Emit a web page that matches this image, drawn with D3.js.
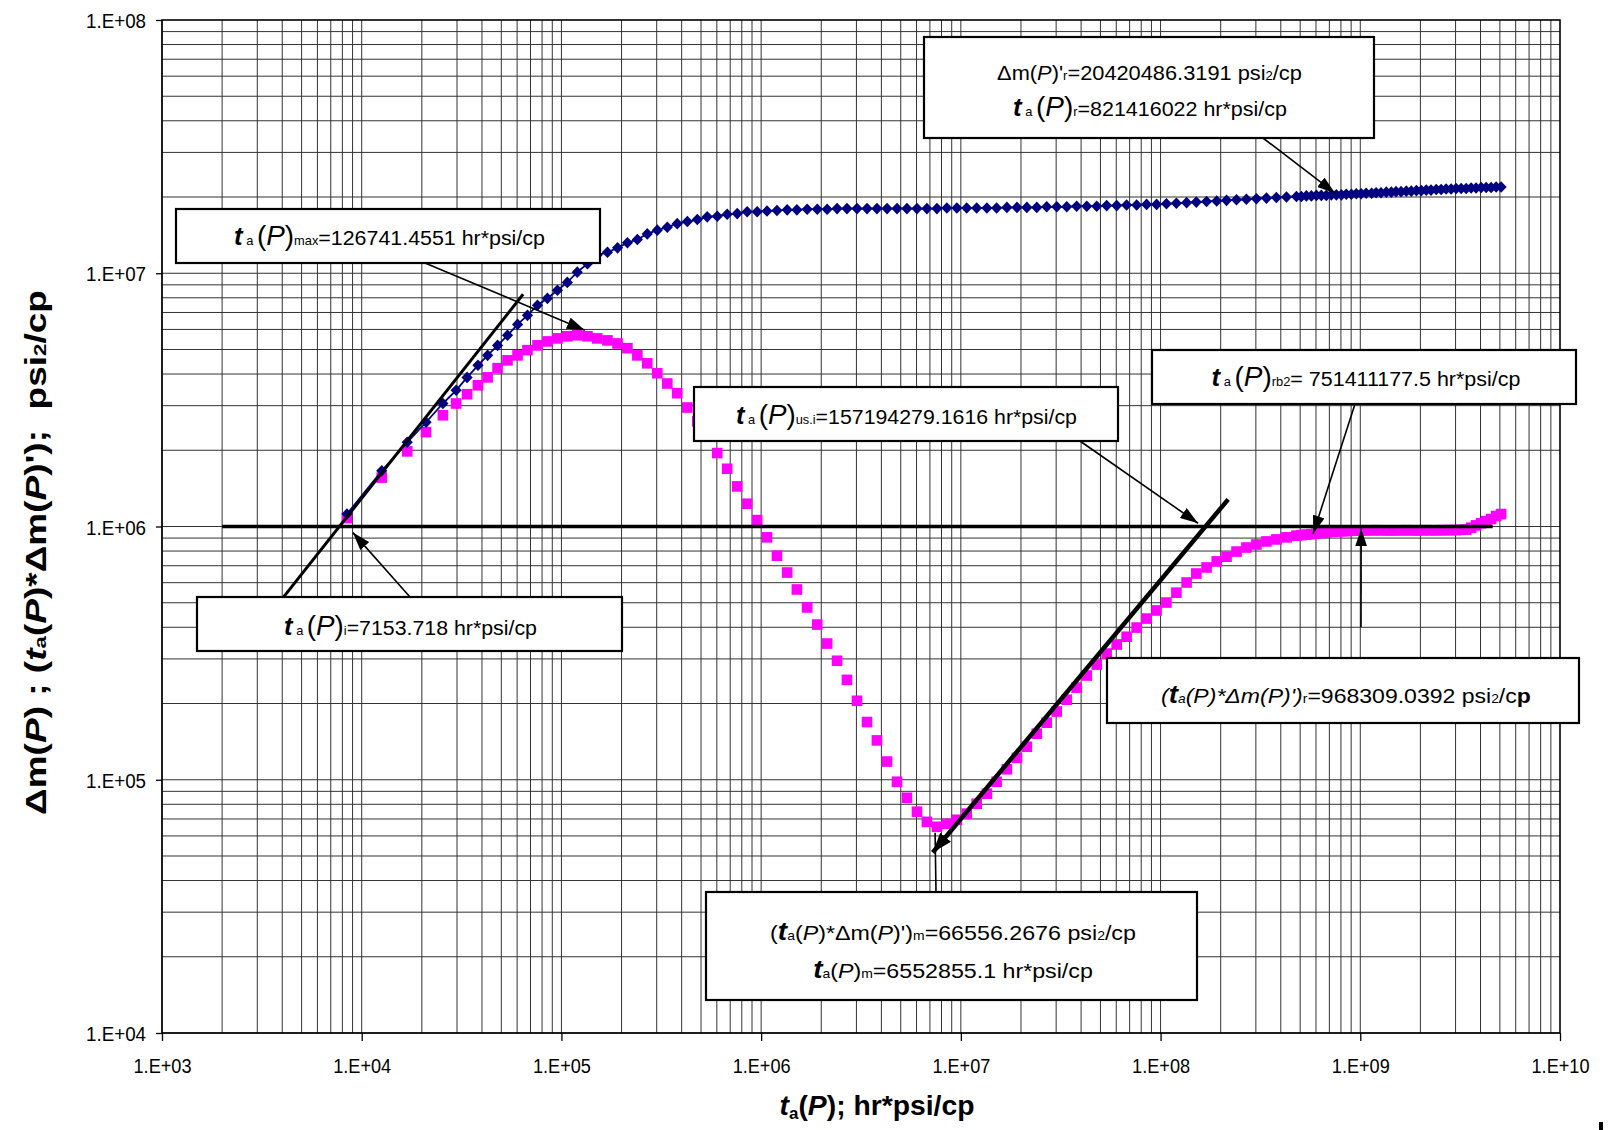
<!DOCTYPE html>
<html>
<head>
<meta charset="utf-8">
<script src="https://cdn.jsdelivr.net/npm/d3@7"></script>
<style>
  html, body { margin: 0; padding: 0; background: #fff; }
  svg { display: block; font-family: "Liberation Sans", Arial, sans-serif; }
</style>
</head>
<body>
<svg id="chart" width="1608" height="1130"></svg>
<script>
// Pseudo-time ta(P), hr*psi/cp (shared by both series)
const time = [
  8435, 12600, 16900, 21000, 25500, 29700, 33700, 38200,
  4.27e4, 4.79e4, 5.37e4, 6.03e4, 6.76e4, 7.59e4, 8.51e4, 9.55e4,
  1.07e5, 1.20e5, 1.35e5, 1.51e5, 1.70e5, 1.91e5, 2.14e5, 2.40e5, 2.69e5, 3.02e5,
  3.39e5, 3.80e5, 4.27e5, 4.79e5, 5.37e5, 6.03e5, 6.76e5, 7.59e5, 8.51e5, 9.55e5,
  1.07e6, 1.20e6, 1.35e6, 1.51e6, 1.70e6, 1.91e6, 2.14e6, 2.40e6, 2.69e6, 3.02e6,
  3.39e6, 3.80e6, 4.27e6, 4.79e6, 5.37e6, 6.03e6, 6.76e6, 7.59e6, 8.51e6, 9.55e6,
  1.07e7, 1.20e7, 1.35e7, 1.51e7, 1.70e7, 1.91e7, 2.14e7, 2.40e7, 2.69e7, 3.02e7,
  3.39e7, 3.80e7, 4.27e7, 4.79e7, 5.37e7, 6.03e7, 6.76e7, 7.59e7, 8.51e7, 9.55e7,
  1.07e8, 1.20e8, 1.35e8, 1.51e8, 1.70e8, 1.91e8, 2.14e8, 2.40e8, 2.69e8, 3.02e8,
  3.39e8, 3.80e8, 4.27e8, 4.79e8,
  5.07e8, 5.37e8, 5.69e8, 6.03e8, 6.38e8, 6.76e8, 7.16e8, 7.59e8, 8.04e8, 8.51e8,
  9.02e8, 9.55e8, 1.01e9, 1.07e9, 1.14e9, 1.20e9, 1.27e9, 1.35e9, 1.43e9, 1.51e9,
  1.60e9, 1.70e9, 1.80e9, 1.91e9, 2.02e9, 2.14e9, 2.26e9, 2.40e9, 2.54e9, 2.69e9,
  2.85e9, 3.02e9, 3.20e9, 3.39e9, 3.59e9, 3.80e9, 4.03e9, 4.27e9, 4.52e9, 4.79e9,
  5.07e9
];

// Derivative group ta(P)*Δm(P)', psi2/cp (magenta squares)
const derivGroup = [
  1.08e6, 1.56e6, 1.98e6, 2.36e6, 2.75e6, 3.06e6, 3.33e6, 3.61e6,
  3.88e6, 4.22e6, 4.53e6, 4.74e6, 4.97e6, 5.19e6, 5.38e6, 5.53e6,
  5.64e6, 5.69e6, 5.64e6, 5.53e6, 5.43e6, 5.28e6, 5.06e6, 4.74e6, 4.41e6, 4.03e6,
  3.67e6, 3.36e6, 2.95e6, 2.60e6, 2.29e6, 1.95e6, 1.69e6, 1.44e6, 1.23e6, 1.06e6,
  9.06e5, 7.67e5, 6.58e5, 5.64e5, 4.79e5, 4.10e5, 3.45e5, 2.95e5, 2.48e5, 2.05e5,
  1.69e5, 1.43e5, 1.18e5, 9.82e4, 8.49e4, 7.48e4, 6.82e4, 6.52e4, 6.70e4, 6.95e4,
  7.35e4, 8.04e4, 8.81e4, 9.82e4, 1.10e5, 1.22e5, 1.35e5, 1.52e5, 1.68e5, 1.86e5,
  2.07e5, 2.31e5, 2.58e5, 2.85e5, 3.15e5, 3.42e5, 3.67e5, 3.99e5, 4.33e5, 4.66e5,
  5.01e5, 5.48e5, 6.01e5, 6.52e5, 6.89e5, 7.28e5, 7.60e5, 7.96e5, 8.26e5, 8.49e5,
  8.73e5, 8.89e5, 9.06e5, 9.20e5,
  9.25e5, 9.29e5, 9.33e5, 9.38e5, 9.42e5, 9.46e5, 9.51e5, 9.55e5, 9.57e5, 9.59e5,
  9.62e5, 9.64e5, 9.64e5, 9.66e5, 9.66e5, 9.67e5, 9.66e5, 9.66e5, 9.65e5, 9.66e5,
  9.66e5, 9.67e5, 9.66e5, 9.65e5, 9.66e5, 9.67e5, 9.66e5, 9.66e5, 9.67e5, 9.67e5,
  9.68e5, 9.68e5, 9.70e5, 9.72e5, 9.89e5, 1.01e6, 1.03e6, 1.05e6, 1.07e6, 1.10e6,
  1.12e6
];

// Pseudo-pressure derivative Δm(P)', psi2/cp (navy diamonds)
const deltaPrime = [
  1.12e6, 1.66e6, 2.15e6, 2.58e6, 3.06e6, 3.45e6, 3.88e6, 4.33e6,
  4.74e6, 5.19e6, 5.69e6, 6.28e6, 6.82e6, 7.48e6, 7.96e6, 8.57e6,
  9.20e6, 1.01e7, 1.09e7, 1.18e7, 1.21e7, 1.26e7, 1.32e7, 1.36e7, 1.43e7, 1.48e7,
  1.52e7, 1.57e7, 1.60e7, 1.63e7, 1.67e7, 1.68e7, 1.71e7, 1.72e7, 1.75e7, 1.75e7,
  1.76e7, 1.77e7, 1.78e7, 1.78e7, 1.79e7, 1.79e7, 1.79e7, 1.80e7, 1.80e7, 1.80e7,
  1.80e7, 1.80e7, 1.80e7, 1.80e7, 1.80e7, 1.80e7, 1.80e7, 1.80e7, 1.81e7, 1.81e7,
  1.81e7, 1.81e7, 1.81e7, 1.81e7, 1.82e7, 1.82e7, 1.82e7, 1.82e7, 1.83e7, 1.83e7,
  1.83e7, 1.84e7, 1.84e7, 1.84e7, 1.85e7, 1.85e7, 1.86e7, 1.86e7, 1.87e7, 1.87e7,
  1.88e7, 1.89e7, 1.90e7, 1.91e7, 1.92e7, 1.93e7, 1.94e7, 1.95e7, 1.96e7, 1.97e7,
  1.98e7, 1.99e7, 2.00e7, 2.01e7,
  2.01e7, 2.02e7, 2.02e7, 2.03e7, 2.03e7, 2.03e7, 2.04e7, 2.04e7, 2.04e7, 2.05e7,
  2.05e7, 2.06e7, 2.06e7, 2.07e7, 2.07e7, 2.08e7, 2.08e7, 2.09e7, 2.09e7, 2.10e7,
  2.10e7, 2.11e7, 2.11e7, 2.12e7, 2.12e7, 2.13e7, 2.13e7, 2.14e7, 2.14e7, 2.15e7,
  2.15e7, 2.16e7, 2.16e7, 2.16e7, 2.17e7, 2.17e7, 2.18e7, 2.18e7, 2.18e7, 2.19e7,
  2.19e7
];

const xTicks = [1e3, 1e4, 1e5, 1e6, 1e7, 1e8, 1e9, 1e10];
const xTickLabels = ["1.E+03", "1.E+04", "1.E+05", "1.E+06", "1.E+07", "1.E+08", "1.E+09", "1.E+10"];
const yTicks = [1e4, 1e5, 1e6, 1e7, 1e8];
const yTickLabels = ["1.E+04", "1.E+05", "1.E+06", "1.E+07", "1.E+08"];

// Straight interpretation lines, in data coordinates
const radialLevel = [[2.0e3, 1e6], [4.6e9, 1e6]];
const earlyUnitSlope = [[4.04e3, 5.24e5], [6.43e4, 8.26e6]];
const lateUnitSlope = [[7.23e6, 5.16e4], [2.18e8, 1.28e6]];

// ---------------------------------------------------------------
const W = 1608, H = 1130;
const M = { left: 162, right: 1560, top: 20, bottom: 1033 };
const svg = d3.select("#chart");
svg.append("rect").attr("width", W).attr("height", H).attr("fill", "#fff");

const x = d3.scaleLog().domain([1e3, 1e10]).range([M.left, M.right]);
const y = d3.scaleLog().domain([1e4, 1e8]).range([M.bottom, M.top]);

// arrowhead markers
const defs = svg.append("defs");
defs.append("marker").attr("id", "head")
  .attr("markerUnits", "userSpaceOnUse")
  .attr("markerWidth", 18).attr("markerHeight", 12)
  .attr("refX", 18).attr("refY", 6).attr("orient", "auto")
  .append("path").attr("d", "M0,0L18,6L0,12Z").attr("fill", "#000");
defs.append("marker").attr("id", "headBig")
  .attr("markerUnits", "userSpaceOnUse")
  .attr("markerWidth", 20).attr("markerHeight", 14)
  .attr("refX", 20).attr("refY", 7).attr("orient", "auto-start-reverse")
  .append("path").attr("d", "M0,0L20,7L0,14Z").attr("fill", "#000");

// log grid, major and minor
const grid = svg.append("g").attr("stroke", "#333").attr("stroke-width", 1).attr("fill", "none");
const xGrid = [], yGrid = [];
for (let e = 3; e < 10; e++) for (let k = 1; k < 10; k++) xGrid.push(k * Math.pow(10, e));
for (let e = 4; e < 8; e++) for (let k = 1; k < 10; k++) yGrid.push(k * Math.pow(10, e));
grid.selectAll("line.v").data(xGrid).join("line").attr("class", "v")
  .attr("x1", d => x(d)).attr("x2", d => x(d)).attr("y1", M.top).attr("y2", M.bottom);
grid.selectAll("line.h").data(yGrid).join("line").attr("class", "h")
  .attr("x1", M.left).attr("x2", M.right).attr("y1", d => y(d)).attr("y2", d => y(d));

svg.append("rect").attr("x", M.left).attr("y", M.top)
  .attr("width", M.right - M.left).attr("height", M.bottom - M.top)
  .attr("fill", "none").attr("stroke", "#000").attr("stroke-width", 1.6);

// stretch or squeeze a text element horizontally to a given width around cx
function fitWidth(sel, w, cx) {
  const bw = sel.node().getBBox().width;
  if (bw > 0) sel.attr("transform", `translate(${cx},0) scale(${w / bw},1) translate(${-cx},0)`);
}

// axes
const xAxis = svg.append("g").attr("transform", `translate(0,${M.bottom})`)
  .call(d3.axisBottom(x).tickValues(xTicks).tickSize(8).tickFormat((d, i) => xTickLabels[i]));
const yAxis = svg.append("g").attr("transform", `translate(${M.left},0)`)
  .call(d3.axisLeft(y).tickValues(yTicks).tickSize(6).tickFormat((d, i) => yTickLabels[i]));
[xAxis, yAxis].forEach(a => {
  a.select(".domain").remove();
  a.selectAll(".tick line").attr("stroke", "#000").attr("stroke-width", 1.3);
  a.selectAll(".tick text").attr("fill", "#000").attr("font-size", 20.5)
    .attr("font-family", "'Liberation Sans', Arial, sans-serif");
});
xAxis.selectAll(".tick text").attr("y", 40).attr("dy", 0)
  .each(function () { fitWidth(d3.select(this), 58, 0); });
yAxis.selectAll(".tick text").attr("x", -16).attr("dy", 0).attr("y", 7.5)
  .each(function () { fitWidth(d3.select(this), 60, -16); });

// mixed-style text built from [string, style] pieces
function addRich(parent, segs, base) {
  const t = parent.append("text").attr("font-size", base).attr("text-anchor", "middle")
    .attr("fill", "#000").style("white-space", "pre");
  for (const [str, st] of segs) {
    const sp = t.append("tspan").text(str);
    if (st.includes("i")) sp.attr("font-style", "italic");
    if (st.includes("b")) sp.attr("font-weight", "bold");
    if (st.includes("T")) sp.attr("font-weight", "bold").attr("font-style", "italic").attr("font-size", base * 1.2);
    if (st.includes("s")) sp.attr("font-size", base * 0.6);
    if (st.includes("L")) sp.attr("font-size", base * 1.3);
  }
  return t;
}

// data series
const pts = d3.zip(time, derivGroup, deltaPrime);

svg.append("g").attr("fill", "#ff00ff")
  .selectAll("rect").data(pts).join("rect")
  .attr("x", d => x(d[0]) - 5.3).attr("y", d => y(d[1]) - 5.3)
  .attr("width", 10.6).attr("height", 10.6);

svg.append("path").datum(pts)
  .attr("fill", "none").attr("stroke", "#000080").attr("stroke-width", 1.8)
  .attr("d", d3.line().x(d => x(d[0])).y(d => y(d[2])));
svg.append("g").attr("fill", "#000080")
  .selectAll("path").data(pts).join("path")
  .attr("d", "M0,-5.8L5.6,0L0,5.8L-5.6,0Z")
  .attr("transform", d => `translate(${x(d[0])},${y(d[2])})`);

// interpretation lines
const seg = d3.line().x(d => x(d[0])).y(d => y(d[1]));
svg.append("path").attr("d", seg(radialLevel)).attr("stroke", "#000").attr("stroke-width", 3.4).attr("fill", "none");
svg.append("path").attr("d", seg(earlyUnitSlope)).attr("stroke", "#000").attr("stroke-width", 3).attr("fill", "none");
svg.append("path").attr("d", seg(lateUnitSlope)).attr("stroke", "#000").attr("stroke-width", 4.5)
  .attr("fill", "none").attr("marker-start", "url(#headBig)");

// callout boxes
const tap = sub => [["t", "T"], [" a ", "s"], ["(", "L"], ["P", "Li"], [")", "L"], [sub, "s"]];
const notes = [
  { box: [924, 37, 1374, 138], lines: [
    { cx: 1149.5, y: 80, w: 305, segs: [["Δm(", ""], ["P", "i"], [")'", ""], ["r", "s"], ["=20420486.3191 psi", ""], ["2", "s"], ["/cp", ""]] },
    { cx: 1150, y: 116, w: 274, segs: [...tap("r"), ["=821416022 hr*psi/cp", ""]] }
  ] },
  { box: [176, 209, 600, 263], lines: [
    { cx: 389.5, y: 245, w: 311, segs: [...tap("max"), ["=126741.4551 hr*psi/cp", ""]] }
  ] },
  { box: [694, 387, 1118, 441], lines: [
    { cx: 906.5, y: 424, w: 341, segs: [...tap("us.i"), ["=157194279.1616 hr*psi/cp", ""]] }
  ] },
  { box: [1152, 350, 1576, 404], lines: [
    { cx: 1366, y: 386.5, w: 309, segs: [...tap("rb2"), ["= 751411177.5 hr*psi/cp", ""]] }
  ] },
  { box: [1107, 658, 1579, 723], lines: [
    { cx: 1346, y: 703, w: 370, segs: [["(", "i"], ["t", "T"], ["a", "si"], ["(P)*Δm(P)')", "i"], ["r", "s"],
      ["=968309.0392 psi", ""], ["2", "s"], ["/c", ""], ["p", "b"]] }
  ] },
  { box: [197, 597, 622, 651], lines: [
    { cx: 410.5, y: 635, w: 253, segs: [...tap("i"), ["=7153.718 hr*psi/cp", ""]] }
  ] },
  { box: [706, 892, 1197, 1000], lines: [
    { cx: 953, y: 940, w: 366, segs: [["(", ""], ["t", "T"], ["a", "s"], ["(", ""], ["P", "i"], [")*Δm(", ""], ["P", "i"], [")')", ""],
      ["m", "s"], ["=66556.2676 psi", ""], ["2", "s"], ["/cp", ""]] },
    { cx: 953, y: 978, w: 280, segs: [["t", "T"], ["a", "s"], ["(", ""], ["P", "i"], [")", ""], ["m", "s"], ["=6552855.1 hr*psi/cp", ""]] }
  ] }
];

const noteG = svg.append("g");
notes.forEach(n => {
  const [x0, y0, x1, y1] = n.box;
  noteG.append("rect").attr("x", x0).attr("y", y0).attr("width", x1 - x0).attr("height", y1 - y0)
    .attr("fill", "#fff").attr("stroke", "#000").attr("stroke-width", 2.2);
  n.lines.forEach(l => {
    const t = addRich(noteG, l.segs, 21).attr("x", l.cx).attr("y", l.y);
    fitWidth(t, l.w, l.cx);
  });
});

// pointers from callouts to the curves (tail in px, tip in data units)
const pointers = [
  { from: [1263, 138], to: [7.48e8, 2.07e7], head: true },
  { from: [425, 263], to: [1.31e5, 5.96e6], head: true },
  { from: [1080, 441], to: [1.54e8, 1.03e6], head: true },
  { from: [1355, 404], to: [5.81e8, 9.37e5], head: true },
  { from: [1361, 627], to: [1.01e9, 9.82e5], head: true },
  { from: [410, 597], to: [9.03e3, 9.46e5], head: true },
  { from: [936, 892], to: [7.43e6, 6.17e4], head: false }
];
pointers.forEach(p => {
  svg.append("line")
    .attr("x1", p.from[0]).attr("y1", p.from[1])
    .attr("x2", x(p.to[0])).attr("y2", y(p.to[1]))
    .attr("stroke", "#000").attr("stroke-width", 1.6)
    .attr("marker-end", p.head ? "url(#head)" : null);
});

// axis titles
const xt = addRich(svg, [["t", "bi"], ["a", "bs"], ["(", "b"], ["P", "bi"], ["); hr*psi/cp", "b"]], 27)
  .attr("x", 877).attr("y", 1115);
xt.select("tspan:nth-child(2)").attr("dy", 4);
xt.select("tspan:nth-child(3)").attr("dy", -4);
fitWidth(xt, 195, 877);

const yg = svg.append("g").attr("transform", "translate(46,552.5) rotate(-90)");
const yt = addRich(yg, [["Δm(", "b"], ["P", "bi"], [") ; (", "b"], ["t", "bi"], ["a", "bs"], ["(", "b"], ["P", "bi"],
  [")*Δm(", "b"], ["P", "bi"], [")');  psi", "b"], ["2", "bs"], ["/cp", "b"]], 29).attr("x", 0).attr("y", 0);
fitWidth(yt, 525, 0);

// clipped glyph at the lower-right corner of the sheet
svg.append("rect").attr("x", 1599).attr("y", 1122).attr("width", 4).attr("height", 8).attr("fill", "#000");
</script>
</body>
</html>
